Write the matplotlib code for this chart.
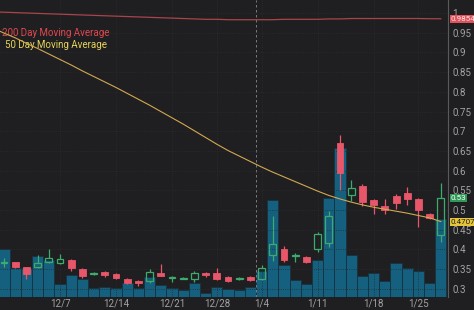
import numpy as np
import matplotlib
matplotlib.use("Agg")
import matplotlib.pyplot as plt
from matplotlib.patches import Rectangle
import matplotlib.transforms as mtransforms

# daily candles, index 0..39 (trading days)
opens = [0.366, 0.368, 0.355, 0.355, 0.368, 0.366, 0.373, 0.350, 0.337, 0.342,
         0.338, 0.325, 0.320, 0.320, 0.340, 0.327, 0.326, 0.326, 0.340, 0.340,
         0.330, 0.324, 0.330, 0.325, 0.385, 0.401, 0.382, 0.380, 0.401, 0.416,
         0.670, 0.538, 0.561, 0.525, 0.510, 0.536, 0.543, 0.528, 0.490, 0.437]
highs = [0.378, 0.369, 0.356, 0.385, 0.401, 0.388, 0.375, 0.353, 0.342, 0.345,
         0.340, 0.327, 0.323, 0.350, 0.362, 0.333, 0.330, 0.345, 0.343, 0.353,
         0.332, 0.330, 0.332, 0.360, 0.485, 0.409, 0.391, 0.382, 0.444, 0.497,
         0.690, 0.576, 0.566, 0.527, 0.528, 0.541, 0.558, 0.530, 0.492, 0.569]
lows = [0.355, 0.353, 0.325, 0.352, 0.366, 0.364, 0.345, 0.328, 0.335, 0.330,
        0.325, 0.313, 0.308, 0.314, 0.332, 0.317, 0.324, 0.318, 0.330, 0.322,
        0.318, 0.322, 0.320, 0.322, 0.371, 0.368, 0.368, 0.365, 0.393, 0.406,
        0.551, 0.523, 0.510, 0.490, 0.490, 0.503, 0.513, 0.457, 0.478, 0.420]
closes = [0.368, 0.355, 0.337, 0.365, 0.378, 0.376, 0.353, 0.332, 0.340, 0.335,
          0.328, 0.315, 0.316, 0.342, 0.333, 0.329, 0.328, 0.340, 0.335, 0.325,
          0.320, 0.328, 0.322, 0.352, 0.414, 0.373, 0.385, 0.368, 0.439, 0.485,
          0.594, 0.556, 0.520, 0.513, 0.500, 0.518, 0.528, 0.500, 0.480, 0.530]
volume = [4.8, 2.9, 2.9, 4.1, 3.7, 1.3, 2.2, 1.8, 0.9, 1.0,
          0.9, 1.4, 0.9, 2.0, 1.2, 0.9, 0.7, 1.4, 0.4, 1.0,
          0.8, 0.7, 1.0, 2.6, 9.7, 3.2, 1.7, 1.3, 3.7, 9.9,
          14.9, 4.2, 2.1, 2.4, 1.6, 3.4, 2.9, 2.6, 1.4, 7.8]

# moving averages, index -1..39
ma_days = list(range(-1, 40))
ma50 = [0.962, 0.949, 0.937, 0.923, 0.910, 0.896, 0.882, 0.868, 0.853, 0.839,
        0.825, 0.811, 0.796, 0.781, 0.766, 0.750, 0.734, 0.718, 0.701, 0.684,
        0.667, 0.651, 0.637, 0.623, 0.609, 0.596, 0.584, 0.572, 0.560, 0.548,
        0.537, 0.528, 0.520, 0.513, 0.507, 0.502, 0.497, 0.492, 0.486, 0.480,
        0.4707]
ma200 = [1.003, 1.002, 1.001, 1.000, 0.999, 0.998, 0.997, 0.996, 0.995, 0.994,
         0.993, 0.992, 0.991, 0.990, 0.989, 0.988, 0.987, 0.986, 0.985, 0.984,
         0.984, 0.983, 0.983, 0.983, 0.983, 0.983, 0.984, 0.984, 0.984, 0.984,
         0.985, 0.985, 0.986, 0.986, 0.986, 0.986, 0.986, 0.986, 0.986, 0.9855,
         0.9854]

tick_days = [5, 10, 15, 19, 23, 28, 33, 37]
tick_labels = ["12/7", "12/14", "12/21", "12/28", "1/4", "1/11", "1/18", "1/25"]
price_ticks = [0.3, 0.35, 0.4, 0.45, 0.5, 0.55, 0.6, 0.65, 0.7, 0.75, 0.8, 0.85, 0.9, 0.95, 1.0]
year_break = 22.5

BG = "#1f1f21"
RED = "#e8566a"
GREEN = "#3daa6e"
VOL = "#14607e"
TXT = "#a3a3a3"

plt.rcParams["font.family"] = ["Roboto", "DejaVu Sans"]

fig = plt.figure(figsize=(4.74, 3.10), dpi=100, facecolor=BG)
ax_v = fig.add_axes([0, 13 / 310, 448 / 474, 297 / 310])
ax_v.set_facecolor(BG)
ax = ax_v.twinx()
ax.patch.set_visible(False)

n = len(closes)
days = np.arange(n)

# volume
ax_v.bar(days, volume, width=1.0, color=VOL, edgecolor="#163240", linewidth=0.6)
ax_v.set_ylim(0, 29.7)
ax_v.set_yticks([])
ax_v.set_xlim(-0.357, 39.64)
ax_v.set_xticks(tick_days)
ax_v.set_xticklabels(tick_labels)
ax_v.tick_params(axis="x", length=0, pad=1, labelsize=7, labelcolor=TXT)
ax_v.grid(axis="x", color="#2c2c2e", linestyle=":", linewidth=0.6)
for s in ax_v.spines.values():
    s.set_visible(False)

# candles
bw = 0.62
for i in days:
    o, h, l, c = opens[i], highs[i], lows[i], closes[i]
    lo, hi = min(o, c), max(o, c)
    if hi - lo < 0.002:
        lo, hi = (lo + hi) / 2 - 0.001, (lo + hi) / 2 + 0.001
    if c >= o:
        ax.vlines(i, l, lo, color=GREEN, linewidth=0.9, zorder=3)
        ax.vlines(i, hi, h, color=GREEN, linewidth=0.9, zorder=3)
        ax.add_patch(Rectangle((i - bw / 2, lo), bw, hi - lo, facecolor="none",
                               edgecolor=GREEN, linewidth=0.9, zorder=3))
    else:
        ax.vlines(i, l, h, color=RED, linewidth=0.9, zorder=3)
        ax.add_patch(Rectangle((i - bw / 2, lo), bw, hi - lo, facecolor=RED,
                               edgecolor=RED, linewidth=0.6, zorder=3))

ax.plot(ma_days, ma200, color="#a8444a", linewidth=0.9, zorder=2)
ax.plot(ma_days, ma50, color="#d2a850", linewidth=0.8, zorder=4)
ax.axvline(year_break, color="#8a8a8a", linestyle=(0, (3, 3)), linewidth=0.6, zorder=1)

ax.set_ylim(0.2792, 1.033)
ax.set_yticks(price_ticks)
ax.set_yticklabels(["{:g}".format(round(v, 2)) for v in price_ticks])
ax.tick_params(axis="y", length=0, pad=3, labelsize=7, labelcolor=TXT)
ax.grid(axis="y", color="#2c2c2e", linestyle=":", linewidth=0.6)
for name, s in ax.spines.items():
    s.set_visible(name == "right")
ax.spines["right"].set_color("#5a5a5a")
ax.spines["right"].set_linewidth(0.8)

ax.text(0.004, 0.889, "200 Day Moving Average", transform=ax.transAxes,
        color="#e0474f", fontsize=7.0, va="center", ha="left")
ax.text(0.011, 0.848, "50 Day Moving Average", transform=ax.transAxes,
        color="#e6d45a", fontsize=7.0, va="center", ha="left")

# last-value boxes on the price axis
trans = mtransforms.blended_transform_factory(ax.transAxes, ax.transData)
for val, fc, tc, txt in [(ma200[-1], "#e0525c", "#fbe3e3", "0.9854"),
                         (closes[-1], "#2f9a58", "#ffffff", "0.53"),
                         (ma50[-1], "#e6c53a", "#1e1e1e", "0.4707")]:
    ax.text(1.006, val, txt, transform=trans, fontsize=5.8, color=tc,
            va="center", ha="left", zorder=10, clip_on=False,
            bbox=dict(boxstyle="square,pad=0.12", fc=fc, ec="none"))

fig.savefig("out.png", dpi=100, facecolor=BG)
